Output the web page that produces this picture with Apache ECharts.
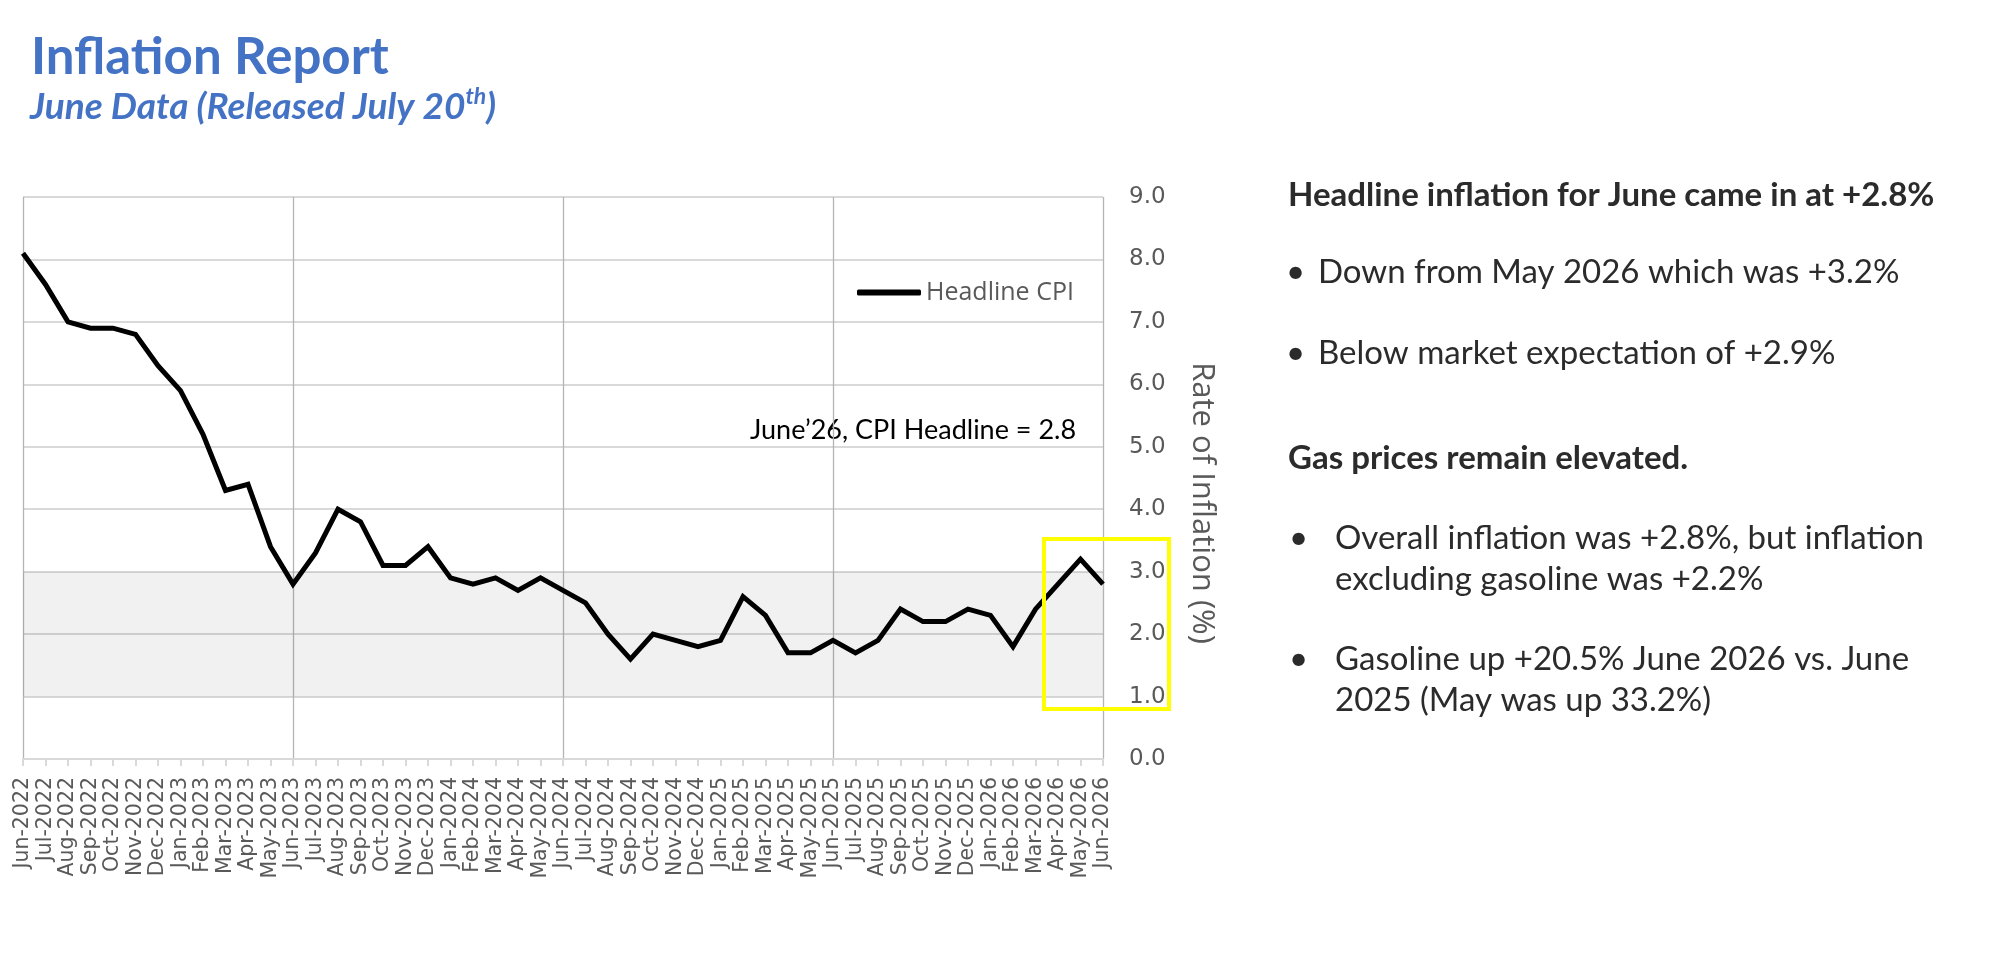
<!DOCTYPE html>
<html>
<head>
<meta charset="utf-8">
<title>Inflation Report</title>
<script src="https://cdn.jsdelivr.net/npm/echarts@6/dist/echarts.min.js"></script>
<style>
  html, body { margin: 0; padding: 0; background: #fff; }
  #main { width: 1996px; height: 978px; }
</style>
</head>
<body>
<div id="main"></div>
<script>
// months on the x axis
const months = [
  'Jun-2022', 'Jul-2022', 'Aug-2022', 'Sep-2022', 'Oct-2022', 'Nov-2022', 'Dec-2022',
  'Jan-2023', 'Feb-2023', 'Mar-2023', 'Apr-2023', 'May-2023', 'Jun-2023', 'Jul-2023',
  'Aug-2023', 'Sep-2023', 'Oct-2023', 'Nov-2023', 'Dec-2023', 'Jan-2024', 'Feb-2024',
  'Mar-2024', 'Apr-2024', 'May-2024', 'Jun-2024', 'Jul-2024', 'Aug-2024', 'Sep-2024',
  'Oct-2024', 'Nov-2024', 'Dec-2024', 'Jan-2025', 'Feb-2025', 'Mar-2025', 'Apr-2025',
  'May-2025', 'Jun-2025', 'Jul-2025', 'Aug-2025', 'Sep-2025', 'Oct-2025', 'Nov-2025',
  'Dec-2025', 'Jan-2026', 'Feb-2026', 'Mar-2026', 'Apr-2026', 'May-2026', 'Jun-2026'
];
// headline CPI, %
const headlineCPI = [
  8.1, 7.6, 7.0, 6.9, 6.9, 6.8, 6.3, 5.9, 5.2, 4.3, 4.4, 3.4,
  2.8, 3.3, 4.0, 3.8, 3.1, 3.1, 3.4, 2.9, 2.8, 2.9, 2.7, 2.9,
  2.7, 2.5, 2.0, 1.6, 2.0, 1.9, 1.8, 1.9, 2.6, 2.3, 1.7, 1.7,
  1.9, 1.7, 1.9, 2.4, 2.2, 2.2, 2.4, 2.3, 1.8, 2.4, 2.8, 3.2,
  2.8
];
// shaded range on the value axis
const targetBand = [1.0, 3.0];
// value axis range
const yRange = [0, 9, 1];

const annotation = 'June\u201926, CPI Headline = 2.8';
const sideHeads = ['Headline inflation for June came in at +2.8%', 'Gas prices remain elevated.'];
const sideBullets = [
  ['Down from May 2026 which was +3.2%'],
  ['Below market expectation of +2.9%'],
  ['Overall inflation was +2.8%, but inflation', 'excluding gasoline was +2.2%'],
  ['Gasoline up +20.5% June 2026 vs. June', '2025 (May was up 33.2%)']
];

const blue = '#4472C4';
const grey = '#595959';
const ink = '#2b2b2b';

let chart = echarts.init(document.getElementById('main'));

// text on the right
function sideText() {
  let g = [];
  let txt = (t, x, y, bold) => ({
    type: 'text', x: x, y: y, silent: true,
    style: {
      text: t, fill: ink, align: 'left', verticalAlign: 'middle',
      font: (bold ? 'bold ' : '') + '33px Lato'
    }
  });
  let dot = (x, y) => txt('\u2022', x, y, false);
  g.push(txt(sideHeads[0], 1288, 195, true));
  g.push(dot(1286, 272), txt(sideBullets[0][0], 1318, 272));
  g.push(dot(1286, 353), txt(sideBullets[1][0], 1318, 353));
  g.push(txt(sideHeads[1], 1288, 458, true));
  g.push(dot(1289, 538), txt(sideBullets[2][0], 1335, 538), txt(sideBullets[2][1], 1335, 579));
  g.push(dot(1289, 659), txt(sideBullets[3][0], 1335, 659), txt(sideBullets[3][1], 1335, 700));
  return g;
}

let option = {
  backgroundColor: '#fff',
  animation: false,
  grid: { left: 23, right: 893, top: 197, bottom: 219, containLabel: false },
  legend: {
    left: 852, top: 275,
    icon: 'roundRect', itemWidth: 64, itemHeight: 6,
    textStyle: { color: grey, fontSize: 25, fontFamily: 'Open Sans' },
    data: ['Headline CPI']
  },
  xAxis: {
    type: 'category',
    data: months,
    boundaryGap: false,
    axisLine: { lineStyle: { color: '#d9d9d9', width: 2 } },
    axisTick: { show: true, interval: 0, length: 7, lineStyle: { color: '#d9d9d9', width: 2 } },
    axisLabel: {
      rotate: 90, interval: 0, margin: 18,
      color: grey, fontSize: 20.5, fontFamily: 'DejaVu Sans'
    },
    splitLine: {
      show: true,
      interval: (i) => i % 12 === 0,
      lineStyle: { color: '#b4b4b4', width: 1.3 }
    }
  },
  yAxis: {
    type: 'value',
    position: 'right',
    min: yRange[0], max: yRange[1], interval: yRange[2],
    axisLine: { show: false },
    axisTick: { show: false },
    axisLabel: {
      margin: 26, color: grey, fontSize: 23, fontFamily: 'DejaVu Sans',
      formatter: (v) => v.toFixed(1)
    },
    splitLine: { lineStyle: { color: '#d9d9d9', width: 2 } },
    name: 'Rate of Inflation (%)',
    nameLocation: 'middle',
    nameRotate: -90,
    nameGap: 83,
    nameTextStyle: { color: grey, fontSize: 31, fontFamily: 'Open Sans', padding: [0, 0, 0, 50] }
  },
  series: [
    {
      name: 'Headline CPI',
      type: 'line',
      data: headlineCPI,
      symbol: 'none',
      color: '#000',
      lineStyle: { color: '#000', width: 5, join: 'miter' },
      markArea: {
        silent: true,
        itemStyle: { color: 'rgba(0,0,0,0.055)' },
        data: [[{ yAxis: targetBand[0] }, { yAxis: targetBand[1] }]]
      }
    }
  ],
  graphic: [
    {
      type: 'text', x: 31, y: 58, silent: true,
      style: { text: 'Inflation Report', fill: blue, font: 'bold 51px Lato', verticalAlign: 'middle' }
    },
    {
      type: 'text', x: 30, y: 107, silent: true,
      style: {
        text: '{m|June Data (Released July 20}{s|th}{m|)}',
        verticalAlign: 'middle',
        rich: {
          m: { fill: blue, fontSize: 37, fontStyle: 'italic', fontWeight: 'bold', fontFamily: 'Lato', lineHeight: 44 },
          s: { fill: blue, fontSize: 23, fontStyle: 'italic', fontWeight: 'bold', fontFamily: 'Lato', verticalAlign: 'top', lineHeight: 22 }
        }
      }
    },
    {
      type: 'text', x: 750, y: 430, silent: true,
      style: { text: annotation, fill: '#000', font: '27px Lato', verticalAlign: 'middle' }
    },
    {
      type: 'rect', z: 100, silent: true,
      shape: { x: 1044, y: 539, width: 125, height: 170 },
      style: { fill: 'none', stroke: '#ffff00', lineWidth: 4 }
    }
  ].concat(sideText())
};

chart.setOption(option);
</script>
</body>
</html>
